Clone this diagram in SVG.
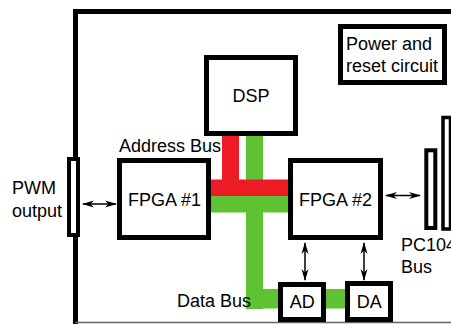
<svg xmlns="http://www.w3.org/2000/svg" width="451" height="324" viewBox="0 0 451 324">
<style>
.box{fill:#fff;stroke:#000;stroke-width:5}
.conn{fill:#fff;stroke:#000;stroke-width:4}
.t{font-family:"Liberation Sans",Arial,sans-serif;font-size:18px;fill:#000}
.m{text-anchor:middle}
.arr{stroke:#000;stroke-width:1.5;fill:none;marker-start:url(#ah);marker-end:url(#ah)}
.red{fill:#ED1C24}
.grn{fill:#5EC233}
</style>
<defs>
<marker id="ah" markerUnits="userSpaceOnUse" markerWidth="12" markerHeight="8" viewBox="0 0 12 8" refX="11" refY="4" orient="auto-start-reverse">
<path d="M0,0.5 L12,4 L0,7.5 L3.5,4 Z" fill="#000"/>
</marker>
</defs>
<rect width="451" height="324" fill="#fff"/>
<g id="frame">
<path d="M75.5,324 V11.5 H452" fill="none" stroke="#000" stroke-width="5"/>
<line x1="75" y1="322.5" x2="451" y2="322.5" stroke="#666" stroke-width="1.5"/>
</g>
<g id="connectors">
<rect class="red" x="222" y="130" width="17" height="66"/>
<rect class="grn" x="246" y="130" width="17" height="179"/>
<rect class="red" x="205" y="179.5" width="90" height="16.5"/>
<rect class="grn" x="205" y="196" width="90" height="16.5"/>
<rect class="grn" x="246" y="289" width="104" height="19.5"/>
<line class="arr" x1="83" y1="204" x2="116" y2="204"/>
<line class="arr" x1="386" y1="195.5" x2="420" y2="195.5"/>
<line class="arr" x1="305" y1="243" x2="305" y2="280"/>
<line class="arr" x1="364" y1="243" x2="364" y2="280"/>
</g>
<g id="power">
<rect class="box" x="340.5" y="26.5" width="104" height="56"/>
<text class="t" x="346" y="50">Power and</text>
<text class="t" x="346" y="72">reset circuit</text>
</g>
<g id="dsp">
<rect class="box" x="206.5" y="57.5" width="89" height="76"/>
<text class="t m" x="251" y="102">DSP</text>
</g>
<g id="address-bus-label">
<text class="t" x="119" y="152">Address Bus</text>
</g>
<g id="fpga1">
<rect class="box" x="119.5" y="160.5" width="89" height="77"/>
<text class="t m" x="164.5" y="206">FPGA #1</text>
</g>
<g id="fpga2">
<rect class="box" x="290.5" y="160.5" width="90" height="77"/>
<text class="t m" x="335.5" y="206">FPGA #2</text>
</g>
<g id="pwm">
<rect class="conn" x="69" y="159" width="9" height="76"/>
<text class="t" x="12" y="194">PWM</text>
<text class="t" x="12" y="217">output</text>
</g>
<g id="pc104">
<rect class="conn" x="426.3" y="150.3" width="9" height="77.7"/>
<rect class="conn" style="stroke-width:3.5" x="443" y="117.5" width="7.5" height="111.5"/>
<text class="t" x="401" y="251">PC104</text>
<text class="t" x="401" y="273">Bus</text>
</g>
<g id="data-bus-label">
<text class="t" x="177" y="307">Data Bus</text>
</g>
<g id="ad">
<rect class="box" x="280.5" y="284.5" width="43" height="35"/>
<text class="t m" x="302.3" y="308">AD</text>
</g>
<g id="da">
<rect class="box" x="347.5" y="283.5" width="43" height="36"/>
<text class="t m" x="369.3" y="308">DA</text>
</g>
</svg>
